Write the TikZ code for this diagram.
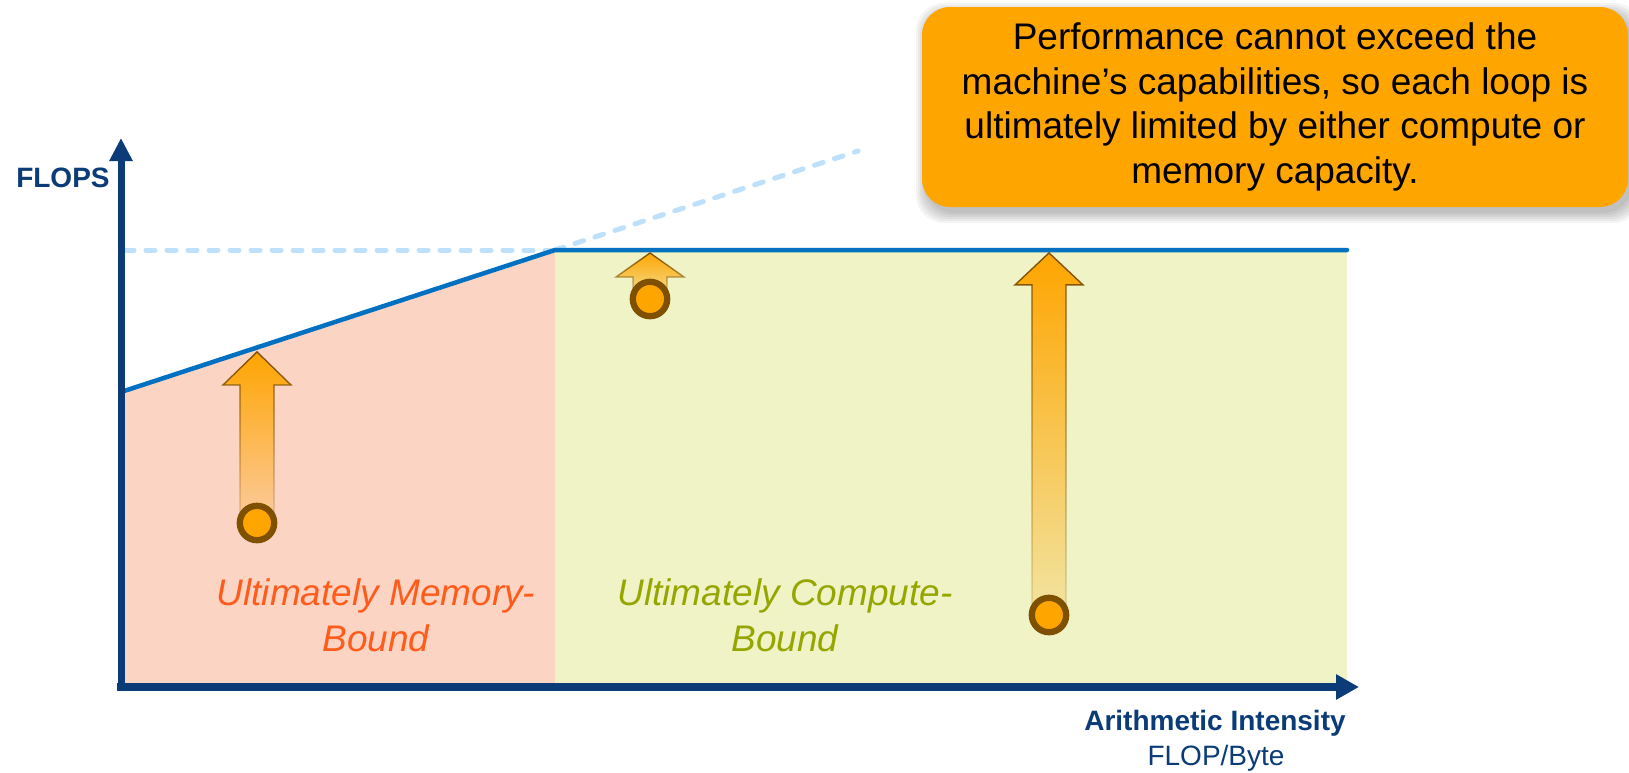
\documentclass[tikz,border=0pt]{standalone}
\usepackage{fontspec}
\setmainfont{Liberation Sans}
\usetikzlibrary{arrows.meta,fadings}

\definecolor{axisblue}{HTML}{0B3C78}
\definecolor{roofblue}{HTML}{0070C0}
\definecolor{ghostblue}{HTML}{BFE0FA}
\definecolor{memfill}{HTML}{FBD4C4}
\definecolor{cmpfill}{HTML}{EFF3C6}
\definecolor{memtext}{HTML}{FF5B1A}
\definecolor{cmptext}{HTML}{96A600}
\definecolor{boxorange}{HTML}{FFA500}
\definecolor{ringbrown}{HTML}{7F5000}

% shaft of the loop arrows fades out towards its foot
\tikzfading[name=shaftfade, top color=transparent!0, bottom color=transparent!82]

\tikzset{
  axisline/.style={draw=axisblue, line width=#1},
  roof/.style={draw=roofblue, line width=2.25pt, line cap=round, line join=miter},
  ghost/.style={draw=ghostblue, line width=2.5pt, line cap=round, dash pattern=on 4.5pt off 6pt},
  loop arrow/.style={fill=boxorange, draw=ringbrown, line width=0.7pt, line join=miter,
    path fading=shaftfade, fit fading=true},
  loop dot/.style={circle, fill=boxorange, draw=ringbrown, line width=3.15pt,
    minimum size=17.2pt, inner sep=0pt},
  axislabel/.style={text=axisblue, font=\fontsize{14}{16}\selectfont, inner sep=0pt},
  regionlabel/.style={font=\itshape\fontsize{18.5}{23}\selectfont, align=center, inner sep=0pt},
  msgbox/.style={fill=boxorange, rounded corners=14pt, minimum width=353pt, minimum height=100pt,
    align=center, inner sep=0pt, font=\fontsize{18.5}{22.25}\selectfont},
}

% block arrow pointing up with a dot at its foot: name, x, tip y, head base y, foot y
\newcommand\loopArrow[5]{%
  \path[loop arrow] (#2,#3) -- (#2+34,#4) -- (#2+17,#4) -- (#2+17,#5)
    -- (#2-17,#5) -- (#2-17,#4) -- (#2-34,#4) -- cycle;
  \node[loop dot] (#1) at (#2,#5) {};
}

\begin{document}
\begin{tikzpicture}[x=0.5pt, y=-0.5pt]
  \useasboundingbox (0,0) rectangle (1629,772);
  \fill[white] (0,0) rectangle (1629,772);

  % key points of the roofline
  \coordinate (org)   at (121,687);
  \coordinate (mem0)  at (121,392);
  \coordinate (ridge) at (555,250);
  \coordinate (ridgeb) at (555,687);
  \coordinate (flat)  at (1347,250);
  \coordinate (flatb) at (1347,687);
  \coordinate (peak0) at (125,250);
  \coordinate (slopeend) at (858,151);
  \coordinate (xstart) at (117,687);
  \coordinate (xend)  at (1359,687);
  \coordinate (ystart) at (121,690);
  \coordinate (yend)  at (121,138);

  % the two regions under the roof
  \fill[memfill] (mem0) -- (ridge) -- (ridgeb) -- (org) -- cycle;
  \fill[cmpfill] (ridge) -- (flat) -- (flatb) -- (ridgeb) -- cycle;

  % extensions of both roofs
  \draw[ghost] (peak0) -- (ridge);
  \draw[ghost] (ridge) -- (slopeend);

  % the roofline
  \draw[roof] (mem0) -- (ridge) -- (flat);

  % axes
  \draw[axisline=4pt, -{Triangle[length=11.5pt, width=12pt]}] (xstart) -- (xend);
  \draw[axisline=3.5pt, -{Triangle[length=11.5pt, width=11pt]}] (ystart) -- (yend);

  % loops moving up to the roof
  \loopArrow{loopA}{257}{352}{385}{523}
  \loopArrow{loopB}{650}{253}{277}{299}
  \loopArrow{loopC}{1049}{253}{285}{615}

  % axis labels
  \node[axislabel, font=\bfseries\fontsize{14}{16}\selectfont, anchor=base east] (ylab) at (110,187) {FLOPS};
  \node[axislabel, font=\bfseries\fontsize{14}{16}\selectfont, anchor=base] (xlab) at (1215,730) {Arithmetic Intensity};
  \node[axislabel, anchor=base] (xunit) at (1216,765) {FLOP/Byte};

  % region labels (base anchor sits on the last line)
  \node[regionlabel, text=memtext, anchor=base] (memlab) at (376,651) {Ultimately Memory-\\Bound};
  \node[regionlabel, text=cmptext, anchor=base] (cmplab) at (785,651) {Ultimately Compute-\\Bound};

  % soft shadow under the note
  \foreach \g in {0,2,...,10} {
    \fill[black, opacity=0.045, rounded corners=14pt]
      (926-\g,13-\g) rectangle (1632+\g,213+\g);
  }
  \node[msgbox] (note) at (1275,107)
    {Performance cannot exceed the\\machine’s capabilities, so each loop is\\ultimately limited by either compute or\\memory capacity.};
\end{tikzpicture}
\end{document}
